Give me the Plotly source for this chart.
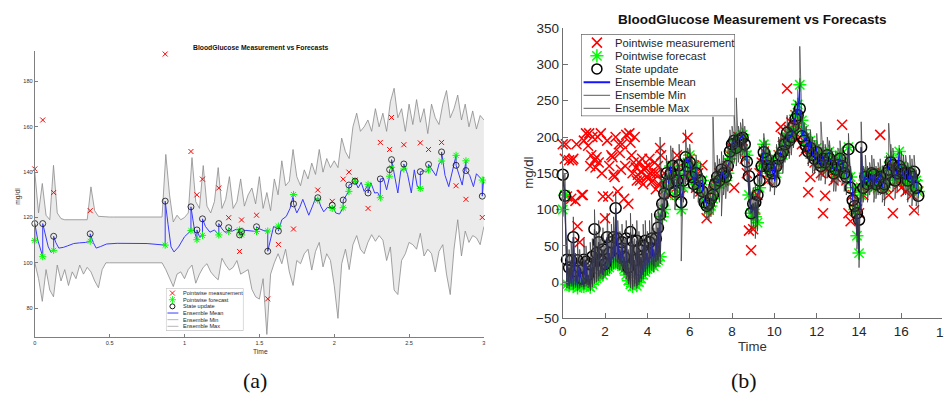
import numpy as np
import plotly.graph_objects as go

W, H = 944, 408

# ================= Panel (a) data =================
a_upd_t = [0.0, 0.053, 0.126, 0.37, 0.871, 1.043, 1.083, 1.12, 1.229, 1.295, 1.368, 1.381,
           1.481, 1.556, 1.627, 1.728, 1.89, 1.987, 2.06, 2.098, 2.139, 2.226, 2.308, 2.37,
           2.383, 2.465, 2.575, 2.63, 2.717, 2.814, 2.88, 2.989]
a_meas = [141.4, 163, 131, 123, 192.1, 149.1, 130, 136.9, 133, 119.9, 105, 118.9,
          121, 84.1, 108.1, 114.9, 132.1, 127.1, 136.9, 140, 136.5, 124, 153.1, 150,
          164.1, 152.1, 152.9, 150, 153.1, 134, 128, 120]
a_fcst = [109.8, 102.7, 105.5, 109.5, 107.8, 114.2, 110.2, 112.1, 112.3, 113.8, 114.5, 112.3,
          113.8, 114, 116.2, 130.1, 127.7, 124, 124.3, 131.5, 136, 134.6, 128.7, 138.2,
          142.1, 141.4, 132.8, 141, 144.9, 147.4, 145, 136.5]
a_upd = [117.3, 117.3, 111.7, 112.8, 127.2, 124.7, 114.5, 119.4, 117.3, 115.5, 112.3, 113.8,
         115.9, 105.1, 114, 126, 128.7, 125.4, 127.7, 134.3, 136, 130.8, 137, 141.1,
         145.5, 143.6, 140.2, 143.4, 148.9, 143, 140.7, 129.4]

a_mean = [(0.0, 109.8), (0.0, 117.3), (0.02, 110), (0.04, 105), (0.053, 102.7), (0.053, 117.3),
          (0.07, 112), (0.09, 107), (0.11, 104.5), (0.126, 105.5), (0.126, 111.7), (0.14, 109),
          (0.16, 106.5), (0.19, 106.8), (0.22, 107.5), (0.26, 108.5), (0.3, 108.8), (0.34, 109),
          (0.37, 109.5), (0.37, 112.8), (0.39, 109), (0.41, 106.5), (0.44, 107.2), (0.48, 108.3),
          (0.55, 108.6), (0.65, 108.5), (0.75, 108.5), (0.871, 107.8), (0.871, 127.2), (0.89, 117),
          (0.91, 107), (0.93, 104.8), (0.96, 107), (1.0, 111.5), (1.043, 114.2), (1.043, 124.7),
          (1.06, 117), (1.07, 113), (1.083, 110.2), (1.083, 114.5), (1.1, 111.5), (1.12, 112.1),
          (1.12, 119.4), (1.14, 116), (1.17, 113.5), (1.2, 114.5), (1.229, 112.3), (1.229, 117.3),
          (1.25, 115), (1.27, 113.5), (1.295, 113.8), (1.295, 115.5), (1.32, 114), (1.345, 114.8),
          (1.368, 114.5), (1.368, 112.3), (1.381, 112.3), (1.381, 113.8), (1.41, 114.3), (1.45, 114),
          (1.481, 113.8), (1.481, 115.9), (1.5, 115), (1.53, 114.2), (1.556, 114), (1.556, 105.1),
          (1.575, 110), (1.595, 116), (1.61, 115.5), (1.627, 116.2), (1.627, 114), (1.65, 119),
          (1.68, 120.5), (1.705, 124), (1.728, 130.1), (1.728, 126), (1.75, 122), (1.77, 124.5),
          (1.79, 128), (1.81, 124), (1.83, 121), (1.855, 125), (1.875, 128.5), (1.89, 127.7),
          (1.89, 128.7), (1.91, 125), (1.93, 122.5), (1.955, 124.5), (1.987, 124), (1.987, 125.4),
          (2.01, 122), (2.035, 121.5), (2.06, 124.3), (2.06, 127.7), (2.08, 130), (2.098, 131.5),
          (2.098, 134.3), (2.12, 135), (2.139, 136), (2.16, 133), (2.18, 135.5), (2.2, 131.5),
          (2.226, 134.6), (2.226, 130.8), (2.245, 135.3), (2.27, 130.8), (2.29, 131), (2.308, 128.7),
          (2.308, 137), (2.33, 137.2), (2.35, 132.2), (2.37, 138.2), (2.37, 141.1), (2.383, 142.1),
          (2.383, 145.5), (2.4, 139), (2.425, 130.8), (2.445, 140.7), (2.465, 141.4), (2.465, 143.6),
          (2.49, 139), (2.515, 130.8), (2.535, 141), (2.555, 133.6), (2.575, 132.8), (2.575, 140.2),
          (2.6, 140.7), (2.61, 140), (2.63, 141), (2.63, 143.4), (2.66, 140.7), (2.68, 138.4),
          (2.7, 143.6), (2.717, 144.9), (2.717, 148.9), (2.74, 138.6), (2.765, 133.6), (2.79, 141.3),
          (2.814, 147.4), (2.814, 143), (2.84, 137.2), (2.855, 134.3), (2.88, 145), (2.88, 140.7),
          (2.905, 138.6), (2.93, 133.6), (2.95, 139.3), (2.989, 136.5), (2.989, 129.4), (3.0, 138)]
a_mean_t = [p[0] for p in a_mean]
a_mean_v = [p[1] for p in a_mean]

# ensemble envelope sampled every 0.025 h from 0 to 3
a_env_t = np.linspace(0, 3, 121)
a_env_max = [140, 122, 135, 121, 119, 143, 122, 119.5, 119, 119,
             119, 119, 119, 119, 119, 133.5, 123, 120.5, 120.3, 120.2,
             120.2, 120.2, 120.2, 120.2, 120.2, 120.2, 120.2, 120.2, 120.2, 120.2,
             120.2, 120.2, 120.2, 120.2, 120.2, 147.8, 130, 118, 121, 119,
             120, 122, 146.4, 127, 124, 142.9, 125, 122, 127, 142,
             124, 128, 138, 124, 127, 137, 125, 130, 133, 126,
             138, 124, 131, 123, 137, 130, 145, 134, 136, 150,
             138, 134, 141, 137, 144, 139, 150, 140, 146, 142,
             145, 142, 155, 149, 146, 160, 166, 158, 160, 163,
             158, 168, 160, 166, 158, 171, 177, 164, 168, 158,
             170, 161, 172, 162, 168, 157, 170, 164, 161, 170,
             176, 164, 168, 174, 163, 170, 160, 167, 159, 165,
             163]
a_env_min = [100, 93, 83, 97, 88, 85, 99, 92, 97, 90,
             96, 93, 99, 95, 98, 96, 92, 89, 97, 100,
             100, 100, 100, 100, 100, 100, 100, 100, 100, 100,
             100, 100, 100, 100, 100, 97, 93, 89.5, 95, 96,
             93, 97, 99, 91, 95, 98, 99.6, 96, 94, 92.5,
             102, 99, 96.8, 98, 101, 95, 96, 97, 88.3, 85,
             84, 93, 68.4, 95, 100, 104, 99.6, 106, 96, 90,
             101, 99.6, 104, 106, 96.8, 105, 109, 98.2, 104, 101,
             90, 75.5, 99.6, 106, 97, 108, 112, 106, 104, 109,
             112.4, 109.5, 112, 110, 101, 107, 88, 86, 101, 104,
             109, 108, 106, 113, 103, 106, 104, 96, 105, 108,
             95, 86, 106, 119, 103, 114, 109, 112, 111, 108,
             116]

a_xticks = [0, 0.5, 1, 1.5, 2, 2.5, 3]
a_yticks = [80, 100, 120, 140, 160, 180]

# ================= Panel (b) data =================
t_b = np.round(np.arange(0, 16.85, 0.1), 1)
b_meas = [190, 170, 118, 168, 115, 170, 112, 77, 55, 120,
          195, 205, 188, 160, 200, 168, 172, 165, 205, 118,
          88, 195, 160, 175, 148, 200, 125, 178, 190, 115,
          203, 108, 192, 150, 200, 140, 165, 152, 135, 158,
          145, 170, 138, 150, 128, 160, 185, 140, 150, 130,
          120, 135, 160, 150, 175, 140, 120, 165, 150, 199,
          170, 145, 160, 130, 150, 125, 161, 115, 88, 100,
          110, 125, 135, 140, 150, 145, 140, 150, 160, 175,
          185, 130, 190, 200, 185, 195, 170, 150, 71, 44,
          73, 100, 120, 150, 165, 180, 170, 140, 150, 160,
          150, 165, 175, 214, 200, 185, 267, 210, 220, 200,
          230, 215, 200, 190, 180, 185, 124, 145, 170, 165,
          175, 160, 150, 95, 119, 155, 165, 150, 140, 145,
          160, 150, 217, 155, 140, 95, 84, 120, 110, 100,
          95, 130, 120, 140, 150, 145, 135, 150, 140, 130,
          203, 150, 140, 130, 120, 160, 95, 150, 140, 135,
          130, 145, 125, 140, 130, 120, 99, 135, 125]
# additional measurements between the update steps in the dense early part
b_meas2_t = [0.15, 0.45, 0.65, 0.95, 1.25, 1.35, 1.55, 1.65, 1.85, 2.15, 2.35, 2.45, 2.65,
             2.75, 2.95, 3.15, 3.25, 3.35, 3.45, 3.55, 3.65, 3.75, 3.85, 3.95, 4.05, 4.15,
             4.25, 4.35, 4.45, 4.55, 4.65]
b_meas2 = [190, 168, 190, 120, 205, 175, 158, 200, 150, 118, 172, 145, 190,
           155, 160, 205, 175, 165, 158, 148, 140, 170, 155, 145, 160, 150,
           140, 165, 150, 135, 175]
b_fcst = [100, 120, -3, -5, -2, -6, -4, -8, -5, -3,
          -6, -2, -4, -7, -3, 2, 5, 8, 12, 10,
          15, 18, 20, 24, 26, 28, 27, 25, 22, 18,
          10, 2, -3, -6, -2, -5, 0, 5, 10, 14,
          18, 20, 24, 22, 28, 30, 35, 90, 100, 130,
          140, 160, 155, 120, 135, 150, 100, 130, 160, 165,
          175, 150, 140, 160, 135, 130, 140, 115, 110, 100,
          105, 115, 130, 140, 135, 150, 145, 140, 150, 170,
          180, 195, 185, 190, 200, 203, 180, 175, 120, 95,
          100, 90, 82, 130, 160, 190, 175, 165, 150, 155,
          165, 150, 170, 180, 175, 190, 200, 195, 205, 210,
          230, 245, 272, 223, 210, 200, 190, 195, 180, 175,
          185, 170, 165, 175, 160, 170, 180, 165, 155, 150,
          160, 175, 165, 150, 150, 186, 145, 130, 100, 64,
          40, 120, 135, 150, 140, 145, 150, 130, 140, 145,
          150, 135, 130, 145, 160, 172, 150, 140, 155, 180,
          160, 145, 140, 155, 150, 135, 130, 140, 125]
b_upd = [148, 119, 31, 20, 30, 62, 15, 30, 20, 5,
         31, 28, 10, 25, 35, 73, 40, 55, 30, 45,
         25, 62, 40, 55, 62, 102, 60, 45, 55, 35,
         60, 20, 69, 57, 30, 57, 45, 35, 50, 57,
         40, 55, 60, 45, 60, 75, 93, 108, 122, 150,
         135, 150, 160, 125, 140, 161, 110, 140, 172, 160,
         165, 145, 135, 150, 130, 140, 125, 110, 105, 108,
         115, 120, 135, 145, 140, 155, 150, 145, 160, 180,
         190, 195, 185, 195, 197, 199, 190, 166, 146, 95,
         108, 110, 120, 140, 160, 179, 170, 160, 155, 150,
         139, 160, 170, 175, 180, 190, 206, 195, 200, 215,
         225, 230, 239, 201, 195, 188, 180, 185, 175, 170,
         179, 165, 160, 170, 165, 175, 170, 160, 150, 155,
         161, 170, 160, 150, 145, 183, 130, 113, 105, 95,
         86, 186, 130, 145, 135, 140, 150, 148, 135, 140,
         145, 130, 135, 150, 155, 165, 161, 140, 150, 160,
         155, 150, 150, 140, 150, 145, 152, 130, 119]
b_emax = [160, 150, 60, 45, 55, 90, 40, 55, 45, 30,
          60, 50, 35, 55, 60, 100, 70, 85, 60, 75,
          50, 95, 70, 80, 90, 125, 85, 70, 80, 60,
          85, 45, 95, 80, 60, 85, 70, 60, 80, 85,
          70, 85, 95, 75, 95, 110, 200, 140, 150, 175,
          160, 188, 185, 150, 170, 190, 135, 170, 210, 185,
          190, 170, 160, 175, 150, 165, 150, 135, 130, 135,
          140, 228, 165, 175, 170, 180, 175, 170, 190, 210,
          215, 232, 254, 215, 220, 225, 215, 190, 170, 120,
          130, 135, 150, 170, 190, 205, 195, 185, 180, 175,
          165, 190, 200, 205, 205, 215, 230, 220, 225, 240,
          250, 265, 325, 230, 220, 215, 205, 210, 200, 195,
          205, 190, 221, 195, 190, 200, 195, 185, 175, 180,
          185, 195, 185, 175, 170, 205, 160, 140, 130, 120,
          110, 221, 160, 175, 160, 165, 175, 170, 160, 165,
          170, 160, 160, 175, 219, 190, 185, 165, 175, 185,
          180, 175, 175, 165, 175, 170, 175, 155, 140]
b_emin = [90, 95, -8, -10, -6, -10, -8, -12, -9, -7,
          -10, -6, -8, -12, -7, -2, 0, 2, 5, 4,
          8, 10, 12, 16, 18, 20, 18, 16, 14, 10,
          4, -3, -8, -10, -6, -9, -4, 0, 4, 8,
          10, 12, 16, 14, 20, 22, 25, 70, 85, 105,
          115, 125, 130, 100, 115, 125, 29, 110, 135, 140,
          145, 125, 115, 130, 110, 105, 115, 95, 88, 85,
          90, 95, 110, 115, 110, 91, 120, 115, 125, 145,
          155, 165, 160, 165, 170, 175, 150, 140, 95, 70,
          75, 60, 70, 110, 135, 155, 145, 135, 125, 130,
          120, 130, 145, 155, 150, 165, 175, 170, 175, 185,
          195, 205, 215, 190, 180, 170, 160, 165, 150, 150,
          155, 140, 140, 145, 135, 145, 150, 135, 125, 125,
          135, 145, 135, 125, 120, 150, 110, 90, 80, 45,
          20, 95, 110, 120, 110, 120, 125, 110, 115, 120,
          120, 110, 105, 120, 130, 140, 125, 115, 125, 140,
          130, 120, 120, 110, 120, 105, 115, 105, 95]
b_xticks = [0, 2, 4, 6, 8, 10, 12, 14, 16]
b_yticks = [-50, 0, 50, 100, 150, 200, 250, 300, 350]

legend_labels = ["Pointwise measurement", "Pointwise forecast", "State update",
                 "Ensemble Mean", "Ensemble Min", "Ensemble Max"]

FONT = "Liberation Sans, Arial, sans-serif"
RED, GREEN, BLUE_A, BLUE_B = "#ff0000", "#00ff00", "#3a3aff", "#1414ff"

fig = go.Figure()

# ---------- panel (a) ----------
fig.add_trace(go.Scatter(x=a_env_t, y=a_env_min, mode="lines", xaxis="x", yaxis="y",
                         line=dict(color="#8c8c8c", width=0.8), hoverinfo="skip"))
fig.add_trace(go.Scatter(x=a_env_t, y=a_env_max, mode="lines", xaxis="x", yaxis="y",
                         line=dict(color="#8c8c8c", width=0.8), fill="tonexty",
                         fillcolor="#ebebeb", hoverinfo="skip"))
fig.add_trace(go.Scatter(x=a_mean_t, y=a_mean_v, mode="lines", xaxis="x", yaxis="y",
                         line=dict(color=BLUE_A, width=1)))
fig.add_trace(go.Scatter(x=a_upd_t, y=a_meas, mode="markers", xaxis="x", yaxis="y", cliponaxis=False,
                         marker=dict(symbol="x-thin-open", size=5, color=RED, line=dict(color=RED, width=1))))
fig.add_trace(go.Scatter(x=a_upd_t, y=a_fcst, mode="markers", xaxis="x", yaxis="y", cliponaxis=False,
                         marker=dict(symbol="asterisk-open", size=6, color=GREEN, line=dict(color=GREEN, width=1))))
fig.add_trace(go.Scatter(x=a_upd_t, y=a_upd, mode="markers", xaxis="x", yaxis="y", cliponaxis=False,
                         marker=dict(symbol="circle-open", size=6, color="#111", line=dict(color="#111", width=0.8))))

# ---------- panel (b) ----------
mean_x = np.repeat(t_b, 2)
mean_y = np.column_stack([b_fcst, b_upd]).ravel()
max_y = np.column_stack([b_fcst, b_emax]).ravel()
min_y = np.column_stack([b_upd, b_emin]).ravel()
meas_x = np.concatenate([t_b, b_meas2_t])
meas_y = np.concatenate([b_meas, b_meas2])

fig.add_trace(go.Scatter(x=meas_x, y=meas_y, mode="markers", xaxis="x2", yaxis="y2", cliponaxis=False,
                         marker=dict(symbol="x-thin-open", size=10, color=RED, line=dict(color=RED, width=1.5))))
fig.add_trace(go.Scatter(x=t_b, y=b_fcst, mode="markers", xaxis="x2", yaxis="y2", cliponaxis=False,
                         marker=dict(symbol="asterisk-open", size=11, color=GREEN, line=dict(color=GREEN, width=1.5))))
fig.add_trace(go.Scatter(x=t_b, y=b_upd, mode="markers", xaxis="x2", yaxis="y2", cliponaxis=False,
                         marker=dict(symbol="circle-open", size=11, color="#000", line=dict(color="#000", width=1.5))))
fig.add_trace(go.Scatter(x=mean_x, y=mean_y, mode="lines", xaxis="x2", yaxis="y2",
                         line=dict(color=BLUE_B, width=1.1)))
fig.add_trace(go.Scatter(x=mean_x, y=min_y, mode="lines", xaxis="x2", yaxis="y2",
                         line=dict(color="rgba(60,60,60,0.8)", width=0.9)))
fig.add_trace(go.Scatter(x=mean_x, y=max_y, mode="lines", xaxis="x2", yaxis="y2",
                         line=dict(color="rgba(60,60,60,0.8)", width=0.9)))

# ---------- manual legends ----------
def add_legend(xa, ya, rows, sx, lx0, lx1, tx, msz, lw, fsize, mean_col, grey, lwm):
    syms = [("x-thin-open", RED), ("asterisk-open", GREEN), ("circle-open", "#000")]
    sizes = [msz, msz + 1, msz]
    for k in range(3):
        fig.add_trace(go.Scatter(x=[sx], y=[rows[k]], mode="markers", xaxis=xa, yaxis=ya, cliponaxis=False,
                                 marker=dict(symbol=syms[k][0], size=sizes[k], color=syms[k][1],
                                             line=dict(color=syms[k][1], width=lw))))
    cols = [mean_col, grey, grey]
    wids = [lwm, lw * 0.8, lw * 0.8]
    for k in range(3):
        fig.add_trace(go.Scatter(x=[lx0, lx1], y=[rows[3 + k], rows[3 + k]], mode="lines",
                                 xaxis=xa, yaxis=ya, line=dict(color=cols[k], width=wids[k])))
    for k, lab in enumerate(legend_labels):
        fig.add_annotation(x=tx, y=rows[k], xref=xa, yref=ya, text=lab, showarrow=False,
                           xanchor="left", yanchor="middle", font=dict(size=fsize, color="#262626", family=FONT))

rows_a = [297, 303.9, 310.8, 317.7, 324.6, 331.5]
add_legend("x3", "y3", rows_a, 169.5, 164.5, 175.5, 178.0, 5, 0.9, 5.6, BLUE_A, "#9a9a9a", 1.0)
rows_b = [37, 50.7, 64.3, 78, 91.7, 105.3]
add_legend("x4", "y4", rows_b, 596.7, 583.3, 610, 612.5, 10, 1.5, 11.2, "#1414ff", "#7a7a7a", 2)

fig.add_shape(type="rect", xref="x3", yref="y3", x0=163, x1=241, y0=292, y1=336, layer="below",
              fillcolor="white", line=dict(color="#8a8a8a", width=0.6))
fig.add_shape(type="rect", xref="x4", yref="y4", x0=580.7, x1=735.7, y0=28.3, y1=113.3, layer="below",
              fillcolor="white", line=dict(color="#333", width=1))

# ---------- texts ----------
def px(xp): return xp / W
def py(yp): return 1 - yp / H

def ann(x, y, text, size, bold=False, angle=0, family=FONT, color="#111"):
    fig.add_annotation(x=px(x), y=py(y), xref="paper", yref="paper", text=f"<b>{text}</b>" if bold else text,
                       showarrow=False, xanchor="center", yanchor="middle", textangle=angle,
                       font=dict(size=size, family=family, color=color))

ann(258, 42, "BloodGlucose Measurement vs Forecasts", 6.8, bold=True)
ann(753, 12.5, "BloodGlucose Measurement vs Forecasts", 13.5, bold=True)
ann(258, 358, "Time", 6.7, color="#333")
ann(14, 196, "mg/dl", 6.7, angle=-90, color="#333")
ann(753.5, 352, "Time", 13.2, color="#333")
ann(528.5, 172, "mg/dl", 13.2, angle=-90, color="#333")
ann(253, 388, "(a)", 22, family="Liberation Serif, DejaVu Serif, serif", color="#111")
ann(745, 388, "(b)", 22, family="Liberation Serif, DejaVu Serif, serif", color="#111")
fig.add_annotation(x=945.7 / W, y=py(328), xref="paper", yref="paper", text="18", showarrow=False,
                   xanchor="center", yanchor="top", font=dict(size=13.5, family=FONT, color="#262626"))

axis_a = dict(showgrid=False, zeroline=False, showline=True, linecolor="#7f7f7f", linewidth=1,
              ticks="inside", ticklen=3, tickcolor="#7f7f7f", tickfont=dict(size=5.6, color="#333", family=FONT))
axis_b = dict(showgrid=False, zeroline=False, showline=True, linecolor="#6f6f6f", linewidth=1,
              ticks="inside", ticklen=5, tickcolor="#6f6f6f", tickfont=dict(size=13.5, color="#262626", family=FONT))
hidden = dict(visible=False, showgrid=False, zeroline=False)

fig.update_layout(
    width=W, height=H, margin=dict(l=0, r=0, t=0, b=0),
    paper_bgcolor="white", plot_bgcolor="white", showlegend=False,
    xaxis=dict(axis_a, domain=[31 / W, 483 / W], range=[0, 3], anchor="y",
               tickvals=a_xticks, ticktext=[str(v) for v in a_xticks]),
    yaxis=dict(axis_a, domain=[(H - 343) / H, (H - 46) / H], range=[67.1, 193.3], anchor="x",
               tickvals=a_yticks),
    xaxis2=dict(axis_b, domain=[562.3 / W, 1.0], range=[0, 17.92], anchor="y2", tickvals=b_xticks),
    yaxis2=dict(axis_b, domain=[(H - 323.3) / H, (H - 22) / H], range=[-50, 350], anchor="x2",
                tickvals=b_yticks),
    xaxis3=dict(hidden, domain=[163 / W, 241 / W], range=[163, 241], anchor="y3"),
    yaxis3=dict(hidden, domain=[(H - 336) / H, (H - 292) / H], range=[336, 292], anchor="x3"),
    xaxis4=dict(hidden, domain=[580.7 / W, 735.7 / W], range=[580.7, 735.7], anchor="y4"),
    yaxis4=dict(hidden, domain=[(H - 113.3) / H, (H - 28.3) / H], range=[113.3, 28.3], anchor="x4"),
)

fig.write_html("out.html")
